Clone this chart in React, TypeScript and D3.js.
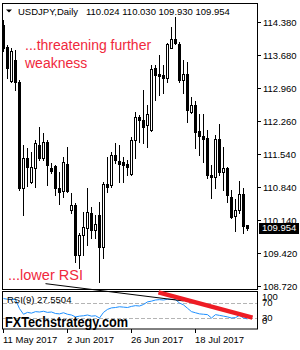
import React, { useRef, useEffect } from "react";
import * as d3 from "d3";

// daily candles, 11 May 2017 onward
const opens = [114.316, 113.844, 113.115, 113.566, 113.094, 110.821, 111.464, 110.95, 111.25, 111.743, 111.464, 111.807, 111.25, 111.293, 110.821, 110.757,
  111.336, 110.35, 110.457, 109.385, 109.813, 109.963, 110.285, 109.921, 110.242, 109.556, 110.907, 110.885, 111.529, 111.4, 111.379, 111.336,
  111.121, 111.85, 112.343, 112.279, 112.172, 112.065, 113.394, 113.265, 113.244, 113.18, 113.823, 114.016, 113.909, 113.137, 113.265, 112.451,
  112.601, 112.043, 111.936, 111.893, 111.1, 111.057, 111.872, 111.164, 111.25, 110.628, 110.221, 110.35, 110.692, 110.024];
const highs = [114.423, 113.887, 113.823, 113.78, 113.137, 111.743, 111.679, 111.593, 111.85, 112.129, 112.0, 111.85, 111.357, 111.314, 111.164, 111.486,
  111.7, 110.714, 110.5, 109.856, 110.307, 110.821, 110.414, 110.242, 110.521, 110.95, 111.486, 111.593, 111.786, 111.743, 111.486, 111.422,
  111.915, 112.451, 112.386, 112.922, 112.601, 113.458, 113.458, 113.673, 113.458, 113.93, 114.273, 114.487, 113.95, 113.566, 113.523, 112.772,
  112.687, 112.408, 112.408, 112.065, 111.314, 111.957, 112.193, 111.7, 111.272, 110.778, 110.585, 110.971, 110.821, 110.03];
const lows = [113.75, 113.18, 113.094, 112.922, 110.778, 110.242, 110.864, 110.928, 110.843, 111.422, 111.422, 110.885, 111.143, 110.671, 110.478, 110.628,
  110.735, 110.285, 109.234, 109.106, 109.385, 109.599, 109.749, 109.749, 108.806, 109.32, 110.735, 110.843, 111.357, 110.95, 110.95, 111.1,
  111.1, 111.464, 111.807, 111.786, 111.7, 112.043, 112.708, 112.815, 112.858, 113.094, 113.823, 113.909, 113.094, 112.858, 112.236, 112.43,
  111.679, 111.529, 111.379, 111.036, 110.607, 110.821, 111.1, 110.778, 110.521, 110.18, 109.899, 110.285, 109.856, 109.93];
const closes = [113.823, 113.394, 113.758, 113.094, 110.821, 111.464, 111.272, 111.272, 111.786, 111.464, 111.807, 111.314, 111.186, 110.821, 110.735, 111.379,
  110.757, 110.457, 109.385, 109.813, 109.985, 110.307, 109.921, 110.049, 109.556, 110.907, 110.843, 111.529, 111.422, 111.336, 111.314, 111.272,
  111.85, 112.343, 112.279, 112.129, 112.408, 113.373, 113.244, 113.222, 113.18, 113.909, 114.016, 113.93, 113.137, 113.265, 112.494, 112.601,
  112.022, 111.936, 111.872, 111.1, 111.057, 111.872, 111.164, 111.25, 110.671, 110.199, 110.35, 110.692, 110.006, 109.954];

const rsiValues = [82, 80, 80, 79, 55, 40, 45, 43, 47, 46, 48, 45, 46, 42, 41, 44,
  40, 38, 33, 35, 36, 38, 35, 36, 30, 45, 53, 57, 58, 60, 59, 58,
  61, 63, 62, 66, 73, 75, 78, 79, 78, 80, 80, 79, 70, 65, 56, 47,
  44, 41, 40, 39, 30, 39, 37, 35, 33, 30, 31, 37, 30, 27.55];

const dateTicks = [{ i: 0, label: "11 May 2017" }, { i: 16, label: "2 Jun 2017" }, { i: 32, label: "26 Jun 2017" }, { i: 48, label: "18 Jul 2017" }];
const priceTicks = [114.38, 113.68, 112.96, 112.26, 111.54, 110.84, 110.14, 109.42, 108.72];
const rsiLevels = [70, 30];
const rsiTickLabels = [100, 70, 30, 0];
const priceTrend = [{ i: 10.5, p: 108.77 }, { i: 45, p: 108.4 }];
const rsiTrend = [{ i: 38.75, v: 98.5 }, { i: 62.25, v: 30.8 }];
const ohlcText = "110.024 110.030 109.930 109.954";

export default function App() {
  const svgRef = useRef<SVGSVGElement>(null);

  useEffect(() => {
    const svg = d3.select(svgRef.current);
    svg.selectAll("*").remove();
    const font = "'Liberation Sans', Arial, sans-serif";

    const x = d3.scaleLinear().domain([0, 61]).range([3.5, 247.5]);
    const y = d3.scaleLinear().domain([108.72, 114.38]).range([286, 22]);
    const r = d3.scaleLinear().domain([0, 100]).range([329.25, 291.75]);

    svg.append("rect").attr("width", 300).attr("height", 350).attr("fill", "#fff");

    // frames
    svg.append("rect").attr("x", 2.5).attr("y", 3.5).attr("width", 255).attr("height", 286)
      .attr("fill", "none").attr("stroke", "#000");
    svg.append("rect").attr("x", 2.5).attr("y", 291.5).attr("width", 255).attr("height", 37.5)
      .attr("fill", "none").attr("stroke", "#000");

    // price axis
    const pa = svg.append("g").attr("font-family", font).attr("font-size", 9.5);
    priceTicks.forEach(p => {
      const yy = Math.round(y(p)) + 0.5;
      pa.append("line").attr("x1", 257).attr("x2", 261).attr("y1", yy).attr("y2", yy).attr("stroke", "#000");
      pa.append("text").attr("x", 263).attr("y", yy).attr("dy", "0.35em").text(p.toFixed(3));
    });

    // candles
    const data = opens.map((o, i) => ({ i, o, h: highs[i], l: lows[i], c: closes[i] }));
    const cg = svg.append("g").attr("shape-rendering", "crispEdges");
    data.forEach(d => {
      const cx = x(d.i);
      cg.append("line").attr("x1", cx).attr("x2", cx).attr("y1", Math.round(y(d.h))).attr("y2", Math.round(y(d.l)) + 1)
        .attr("stroke", "#000");
      const top = Math.round(y(Math.max(d.o, d.c)));
      const bot = Math.round(y(Math.min(d.o, d.c)));
      cg.append("rect").attr("x", cx - 1).attr("y", top + 0.5).attr("width", 2).attr("height", Math.max(bot - top, 1))
        .attr("fill", d.c >= d.o ? "#fff" : "#000").attr("stroke", "#000");
    });

    // current price marker
    const cy = Math.round(y(closes[closes.length - 1]));
    svg.append("rect").attr("x", 259).attr("y", cy - 5).attr("width", 40).attr("height", 11).attr("fill", "#000");
    svg.append("text").attr("x", 262).attr("y", cy).attr("dy", "0.35em").attr("fill", "#fff")
      .attr("font-family", font).attr("font-size", 9.5).text(closes[closes.length - 1].toFixed(3));

    // title
    svg.append("path").attr("d", "M6,9.5L12,9.5L9,12.5Z").attr("fill", "#000");
    svg.append("text").attr("x", 18).attr("y", 14.5).attr("font-family", font).attr("font-size", 9.5).text("USDJPY,Daily");
    svg.append("text").attr("x", 86).attr("y", 14.5).attr("font-family", font).attr("font-size", 9.5).text(ohlcText);

    // annotations
    const red = "#f0283c";
    svg.append("text").attr("x", 25).attr("y", 49.5).attr("fill", red).attr("font-family", font).attr("font-size", 14).text("...threatening further");
    svg.append("text").attr("x", 25).attr("y", 68).attr("fill", red).attr("font-family", font).attr("font-size", 14).text("weakness");
    svg.append("text").attr("x", 8).attr("y", 279.5).attr("fill", red).attr("font-family", font).attr("font-size", 14.5).text("...lower RSI");

    // RSI panel
    rsiLevels.forEach(v => {
      svg.append("line").attr("x1", 3).attr("x2", 257).attr("y1", Math.round(r(v)) + 0.5).attr("y2", Math.round(r(v)) + 0.5)
        .attr("stroke", "#b4b4b4").attr("stroke-dasharray", "4,2");
    });
    const ra = svg.append("g").attr("font-family", font).attr("font-size", 9.5);
    rsiTickLabels.forEach(v => {
      const yy = Math.min(Math.max(r(v), 296.5), 321);
      ra.append("text").attr("x", 262).attr("y", yy).attr("dy", "0.35em").text(v);
    });

    const rsiLine = d3.line<number>().x((d, i) => x(i)).y(d => r(d));
    svg.append("path").attr("d", rsiLine(rsiValues)).attr("fill", "none").attr("stroke", "#1e90ff").attr("stroke-width", 1);

    svg.append("text").attr("x", 7).attr("y", 303).attr("font-family", font).attr("font-size", 9.5).text("RSI(9) 27.5504");

    // trend lines
    svg.append("line").attr("x1", x(priceTrend[0].i)).attr("y1", y(priceTrend[0].p)).attr("x2", x(priceTrend[1].i)).attr("y2", y(priceTrend[1].p))
      .attr("stroke", "#000").attr("stroke-width", 1);
    svg.append("line").attr("x1", x(rsiTrend[0].i)).attr("y1", r(rsiTrend[0].v)).attr("x2", x(rsiTrend[1].i)).attr("y2", r(rsiTrend[1].v))
      .attr("stroke", "#ee1c25").attr("stroke-width", 4.5);

    // watermark
    svg.append("text").attr("x", 5).attr("y", 327).attr("font-family", font).attr("font-weight", "bold").attr("font-size", 14)
      .attr("textLength", 123).attr("lengthAdjust", "spacingAndGlyphs").text("FXTechstrategy.com");

    // date axis
    const da = svg.append("g").attr("font-family", font).attr("font-size", 9.5);
    dateTicks.forEach(t => {
      const xx = Math.floor(x(t.i)) + 0.5;
      da.append("line").attr("x1", xx).attr("x2", xx).attr("y1", 329).attr("y2", 333).attr("stroke", "#000");
      da.append("text").attr("x", xx - 0.5).attr("y", 342.5).text(t.label);
    });
  }, []);

  return (
    <div style={{ position: "absolute", left: 0, top: 0 }}>
      <svg ref={svgRef} width={300} height={350} style={{ display: "block" }} />
    </div>
  );
}
